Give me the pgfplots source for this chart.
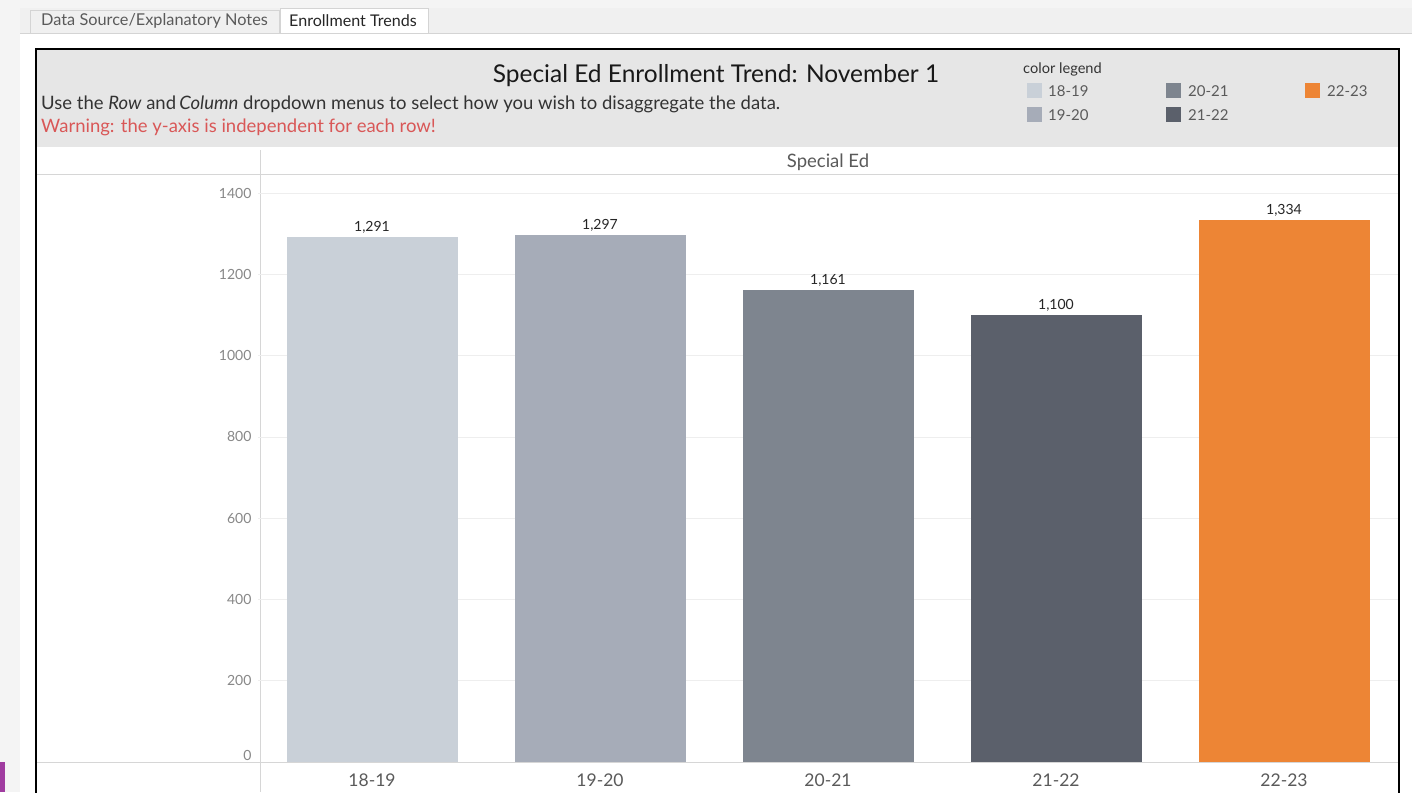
\documentclass[border=0pt]{standalone}
\usepackage{fontspec}
\setmainfont{Lato}
\usepackage{pgfplots}
\pgfplotsset{compat=1.18}
\definecolor{hdr}{HTML}{E6E6E6}
\definecolor{pagegray}{HTML}{F4F4F4}
\definecolor{tabbar}{HTML}{F0F0F0}
\definecolor{tabline}{HTML}{D4D4D4}
\definecolor{linegray}{HTML}{D6D6D6}
\definecolor{gridgray}{HTML}{EEEEEE}
\definecolor{ticklab}{HTML}{5A5A5A}
\definecolor{ticklabY}{HTML}{888888}
\definecolor{warn}{HTML}{D95757}
\definecolor{cA}{HTML}{C9D0D8}
\definecolor{cB}{HTML}{A6ACB8}
\definecolor{cC}{HTML}{7E858F}
\definecolor{cD}{HTML}{5B606B}
\definecolor{cE}{HTML}{ED8535}
\definecolor{purp}{HTML}{A03CA0}
\begin{document}
\begin{tikzpicture}[x=1pt,y=1pt]
\path[use as bounding box] (0,0) rectangle (1412,-792);
\clip (0,0) rectangle (1412,-792);
\fill[white] (0,0) rectangle (1412,-792);
% page chrome
\fill[pagegray] (0,0) rectangle (1412,-8);
\fill[pagegray] (0,0) rectangle (20,-792);
\fill[purp] (0,-762) rectangle (5,-792);
\fill[tabbar] (20,-8) rectangle (1412,-33);
\draw[tabline] (20,-33) -- (1412,-33);
\draw[tabline, fill=tabbar] (30,-10) rectangle (279,-33);
\fill[white] (280,-8) rectangle (428,-33.5);
\draw[tabline] (280,-33) -- (280,-8) -- (428,-8) -- (428,-33);
\node[anchor=west, inner sep=0pt, text=ticklab, font=\fontsize{16.3}{18}\selectfont] at (41,-20.5) {Data Source/Explanatory Notes};
\node[anchor=west, inner sep=0pt, text=black!85, font=\fontsize{16.1}{18}\selectfont] at (289,-20.5) {Enrollment Trends};
% dashboard frame and header
\fill[hdr] (37,-50) rectangle (1398,-147);
\draw[black, line width=2.5pt] (36,-49) rectangle (1399,-830);
\node[inner sep=0pt, text=black!90, font=\fontsize{24.5}{26}\selectfont] at (716,-76) {Special Ed Enrollment Trend: November 1};
\node[anchor=west, inner sep=0pt, text=black!80, font=\fontsize{18.5}{20}\selectfont] at (41,-104) {Use the \textit{Row} and\,\textit{Column} dropdown menus to select how you wish to disaggregate the data.};
\node[anchor=west, inner sep=0pt, text=warn, font=\fontsize{18.5}{20}\selectfont] at (41,-127) {Warning: the y-axis is independent for each row!};
% legend
\node[anchor=west, inner sep=0pt, text=black!80, font=\fontsize{14.6}{16}\selectfont] at (1023,-69) {color legend};
\fill[cA] (1027,-83) rectangle (1042,-98);
\fill[cB] (1027,-107) rectangle (1042,-122);
\fill[cC] (1166,-83) rectangle (1181,-98);
\fill[cD] (1166,-107) rectangle (1181,-122);
\fill[cE] (1305,-83) rectangle (1320,-98);
\begin{scope}[every node/.style={anchor=west, inner sep=0pt, text=ticklab, font=\fontsize{15}{17}\selectfont}]
\node at (1048,-91) {18-19};
\node at (1048,-115) {19-20};
\node at (1188,-91) {20-21};
\node at (1188,-115) {21-22};
\node at (1327,-91) {22-23};
\end{scope}
% structure lines
\draw[linegray, line width=1pt] (37,-174) -- (1398,-174);
\draw[linegray, line width=1pt] (260,-150) -- (260,-792);
\node[inner sep=0pt, text=ticklab, font=\fontsize{18.5}{20}\selectfont] at (828,-162) {Special Ed};
% chart
\begin{axis}[at={(258pt,-762pt)}, anchor=south west, scale only axis,
  width=1140pt, height=588pt,
  xmin=-0.5, xmax=4.5, ymin=0, ymax=1447,
  axis line style={draw=none}, tick style={draw=none},
  ytick={0,200,400,600,800,1000,1200,1400},
  yticklabels={\raisebox{14pt}{0},200,400,600,800,1000,1200,1400},
  ymajorgrids, grid style={gridgray, line width=0.8pt},
  xtick={0,1,2,3,4}, xticklabels={18-19,19-20,20-21,21-22,22-23},
  xticklabel style={font=\fontsize{17.5}{17.5}\selectfont, text=ticklab, yshift=-4pt},
  yticklabel style={font=\fontsize{14}{14}\selectfont, text=ticklabY, xshift=-3pt},
  /pgf/number format/assume math mode=true,
  ybar, bar width=171pt,
  nodes near coords,
  nodes near coords style={font=\fontsize{14}{14}\selectfont, text=black!85, /pgf/number format/1000 sep={,}},
  every axis plot/.append style={draw=none, bar shift=0pt},
  clip=false]
\addplot[fill=cA] coordinates {(0,1291)};
\addplot[fill=cB] coordinates {(1,1297)};
\addplot[fill=cC] coordinates {(2,1161)};
\addplot[fill=cD] coordinates {(3,1100)};
\addplot[fill=cE] coordinates {(4,1334)};
\end{axis}
\draw[linegray, line width=1pt] (37,-762) -- (1398,-762);
\end{tikzpicture}
\end{document}
